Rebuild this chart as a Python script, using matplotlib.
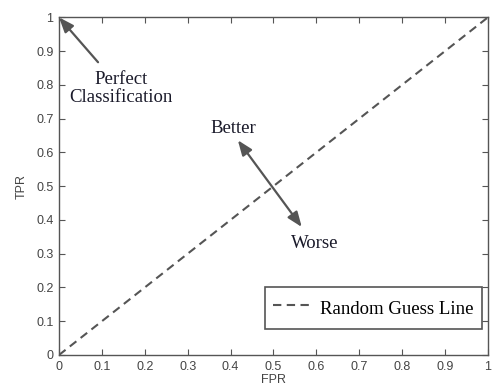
import matplotlib
matplotlib.use("Agg")
import matplotlib.pyplot as plt
import numpy as np

# Data
guess_x = [0, 1]
guess_y = [0, 1]
ticks = [0, 0.1, 0.2, 0.3, 0.4, 0.5, 0.6, 0.7, 0.8, 0.9, 1]
tick_labels = ["0", "0.1", "0.2", "0.3", "0.4", "0.5", "0.6", "0.7", "0.8", "0.9", "1"]
perfect_tip = (0.0, 1.0)
perfect_tail = (0.091, 0.867)
perfect_text_pos = (0.145, 0.79)
better_tip = (0.417, 0.636)
worse_tip = (0.566, 0.379)
better_text_pos = (0.406, 0.672)
worse_text_pos = (0.597, 0.33)

gray = "#555555"

fig = plt.figure(figsize=(4.93, 3.85), dpi=100)
ax = fig.add_axes([0.1197, 0.078, 0.870, 0.877])

ax.plot(guess_x, guess_y, linestyle=(0, (4, 2.6)), color=gray, lw=1.5,
        label="Random Guess Line")

ax.set_xlim(0, 1)
ax.set_ylim(0, 1)
ax.set_xticks(ticks)
ax.set_yticks(ticks)
ax.set_xticklabels(tick_labels, fontsize=9, color="#444444", family="Liberation Sans")
ax.set_yticklabels(tick_labels, fontsize=9, color="#444444", family="Liberation Sans")
ax.tick_params(direction="in", top=True, right=True, length=4, width=0.8, color=gray, pad=4)
for s in ax.spines.values():
    s.set_color(gray)
    s.set_linewidth(1.0)

ax.set_xlabel("FPR", fontsize=9, color="#444444", family="Liberation Sans", labelpad=1)
ax.set_ylabel("TPR", fontsize=9, color="#444444", family="Liberation Sans", labelpad=6)

arrowprops = dict(arrowstyle="-|>,head_length=0.9,head_width=0.35", color=gray, lw=1.6,
                  shrinkA=0, shrinkB=0)
ax.annotate("", xy=perfect_tip, xytext=perfect_tail, arrowprops=arrowprops)
ax.text(*perfect_text_pos, "Perfect\nClassification", ha="center", va="center",
        fontsize=13.5, family="Liberation Serif", color="#1a1a2a", linespacing=1.05)

arrowprops2 = dict(arrowstyle="<|-|>,head_length=0.9,head_width=0.35", color=gray, lw=1.6,
                   shrinkA=0, shrinkB=0)
ax.annotate("", xy=better_tip, xytext=worse_tip, arrowprops=arrowprops2)
ax.text(*better_text_pos, "Better", ha="center", va="center",
        fontsize=13.5, family="Liberation Serif", color="#1a1a2a")
ax.text(*worse_text_pos, "Worse", ha="center", va="center",
        fontsize=13.5, family="Liberation Serif", color="#1a1a2a")

leg = ax.legend(loc="lower right", prop={"family": "Liberation Serif", "size": 13.5},
                fancybox=False, framealpha=1, edgecolor=gray, borderpad=0.45,
                handlelength=2.2, handletextpad=0.3, handleheight=1.7,
                borderaxespad=0, bbox_to_anchor=(0.986, 0.077))
leg.get_frame().set_linewidth(1.2)

fig.savefig("out.png", dpi=100)
